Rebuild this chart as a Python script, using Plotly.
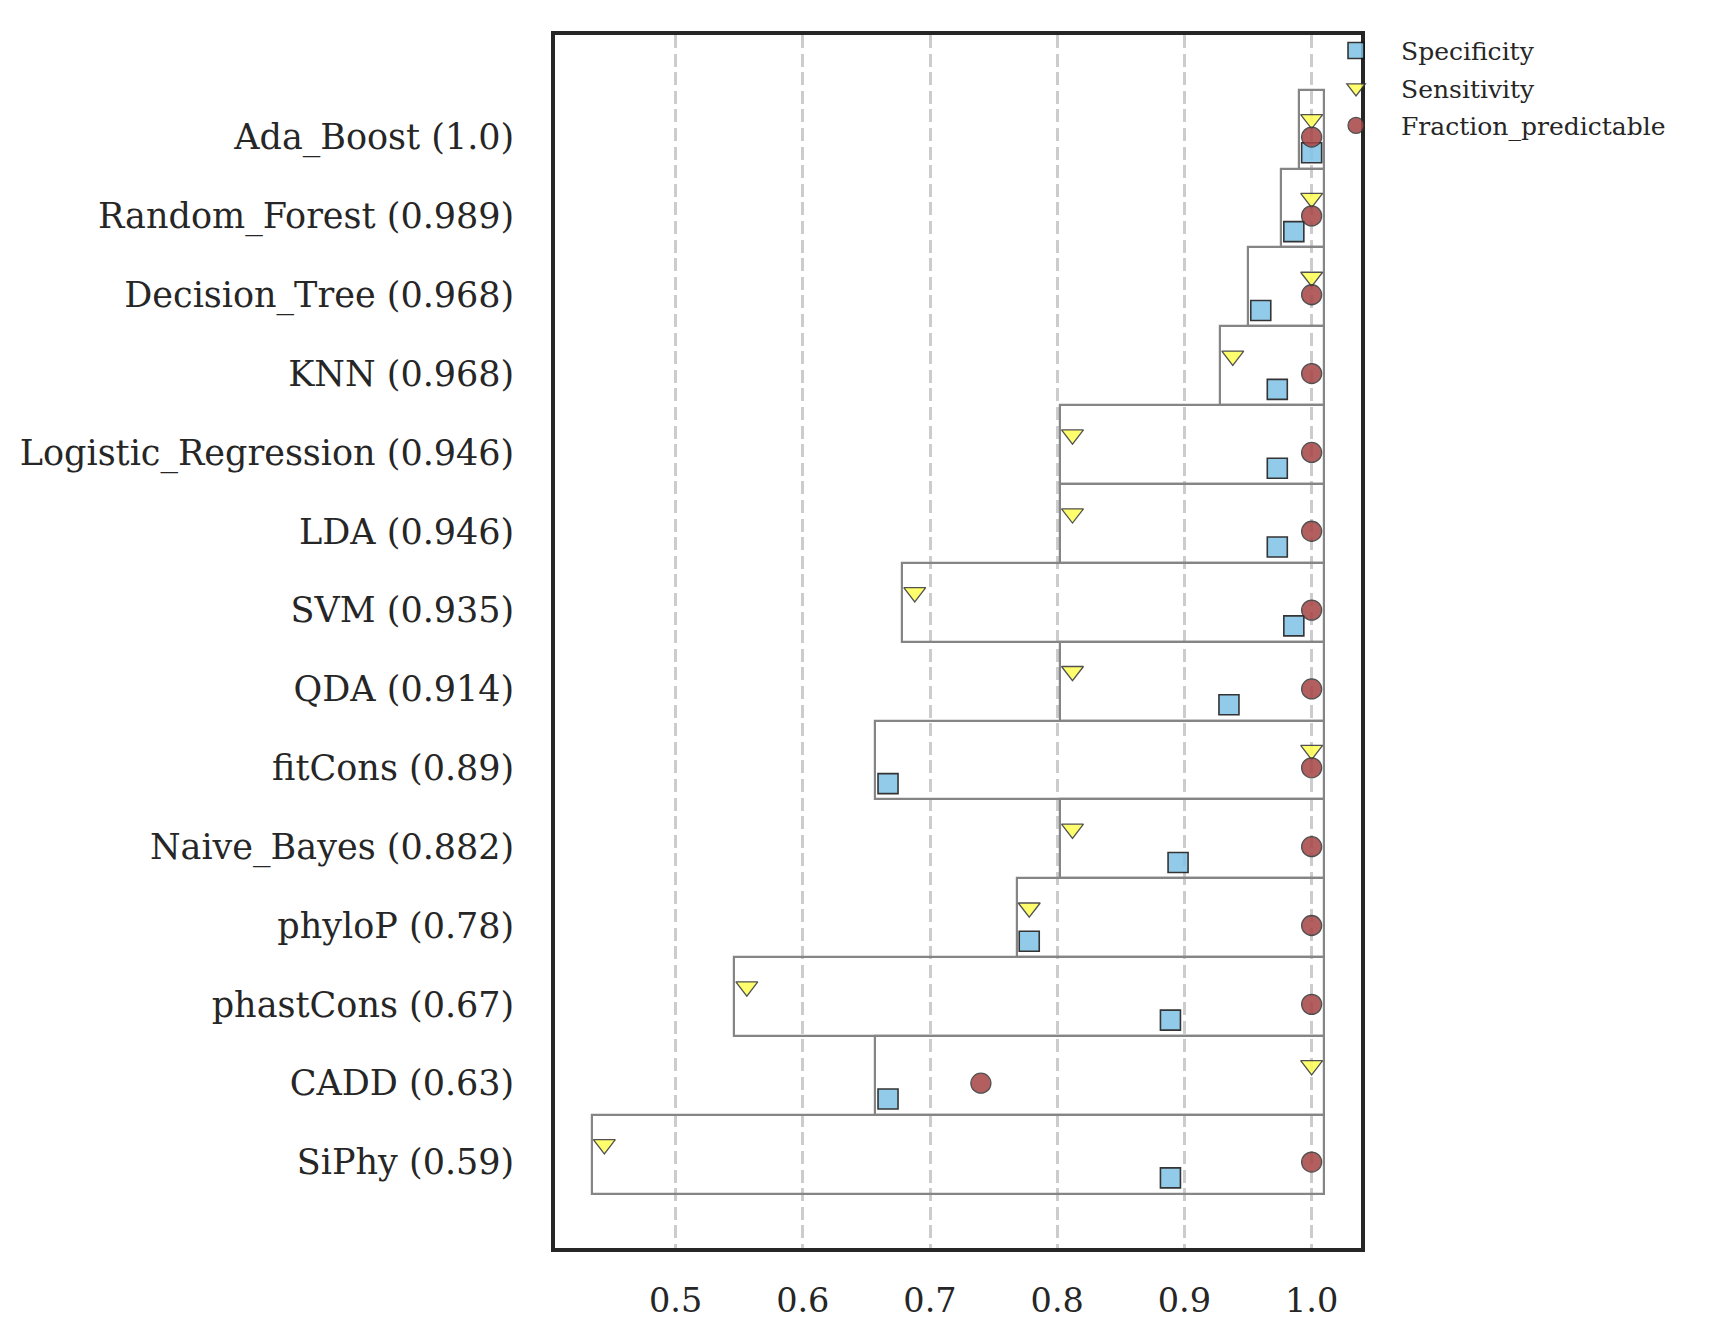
import plotly.graph_objects as go

categories = ["Ada_Boost (1.0)", "Random_Forest (0.989)", "Decision_Tree (0.968)", "KNN (0.968)",
              "Logistic_Regression (0.946)", "LDA (0.946)", "SVM (0.935)", "QDA (0.914)",
              "fitCons (0.89)", "Naive_Bayes (0.882)", "phyloP (0.78)", "phastCons (0.67)",
              "CADD (0.63)", "SiPhy (0.59)"]
specificity = [1.0, 0.986, 0.960, 0.973, 0.973, 0.973, 0.986, 0.935, 0.667, 0.895, 0.778, 0.889, 0.667, 0.889]
sensitivity = [1.0, 1.0, 1.0, 0.938, 0.812, 0.812, 0.688, 0.812, 1.0, 0.812, 0.778, 0.556, 1.0, 0.444]
fraction_predictable = [1.0, 1.0, 1.0, 1.0, 1.0, 1.0, 1.0, 1.0, 1.0, 1.0, 1.0, 1.0, 0.74, 1.0]
x_ticks = [0.5, 0.6, 0.7, 0.8, 0.9, 1.0]

idx = list(range(len(categories)))
bar_base = [min(s, t, f) - 0.01 for s, t, f in zip(specificity, sensitivity, fraction_predictable)]
bar_len = [1.01 - b for b in bar_base]

font_family = "DejaVu Serif"
fig = go.Figure()
fig.add_trace(go.Bar(
    y=[i - 0.1 for i in idx], x=bar_len, base=bar_base, orientation="h", width=1.0,
    marker=dict(color="rgba(0,0,0,0)", line=dict(color="#858585", width=2.2)),
    showlegend=False, hoverinfo="skip"))

fig.add_trace(go.Scatter(
    x=specificity, y=[i + 0.2 for i in idx], mode="markers", name="Specificity",
    legendgroup="a",
    marker=dict(symbol="square", size=20, color="rgb(127,195,230)", opacity=0.85,
                line=dict(color="#111111", width=1.6))))
fig.add_trace(go.Scatter(
    x=sensitivity, y=[i - 0.225 for i in idx], mode="markers", name="Sensitivity",
    legendgroup="b",
    marker=dict(symbol="triangle-down", size=19, color="rgb(255,255,84)", opacity=0.85,
                line=dict(color="#333333", width=1.3))))
fig.add_trace(go.Scatter(
    x=fraction_predictable, y=idx, mode="markers", name="Fraction_predictable",
    legendgroup="c",
    marker=dict(symbol="circle", size=20, color="rgb(167,68,68)", opacity=0.85,
                line=dict(color="#333333", width=1.3))))

fig.update_layout(
    width=1720, height=1332,
    margin=dict(l=544, r=367, t=27, b=92),
    paper_bgcolor="white", plot_bgcolor="white",
    font=dict(family=font_family, color="#262626"),
    showlegend=True,
    legend=dict(x=0.938, y=1.006, xanchor="left", yanchor="top", itemwidth=80,
                font=dict(size=25, family=font_family, color="#262626"),
                bgcolor="rgba(0,0,0,0)", tracegroupgap=2),
    bargap=0,
)
fig.update_xaxes(
    range=[0.4052, 1.0388], tickvals=x_ticks, ticktext=[f"{v:.1f}" for v in x_ticks],
    showgrid=True, gridcolor="#cccccc", griddash="13px,5.6px", gridwidth=2.5,
    showline=True, linecolor="#262626", linewidth=3.5, mirror=True,
    ticks="", tickfont=dict(size=33.5, family=font_family, color="#262626"),
    ticklabelstandoff=20, zeroline=False)
fig.update_yaxes(
    range=[14.09, -1.294], tickvals=idx, ticktext=categories,
    showgrid=False, showline=True, linecolor="#262626", linewidth=3.5, mirror=True,
    ticks="", tickfont=dict(size=35, family=font_family, color="#262626"),
    ticklabelstandoff=30, zeroline=False)

fig.write_html("out.html")
